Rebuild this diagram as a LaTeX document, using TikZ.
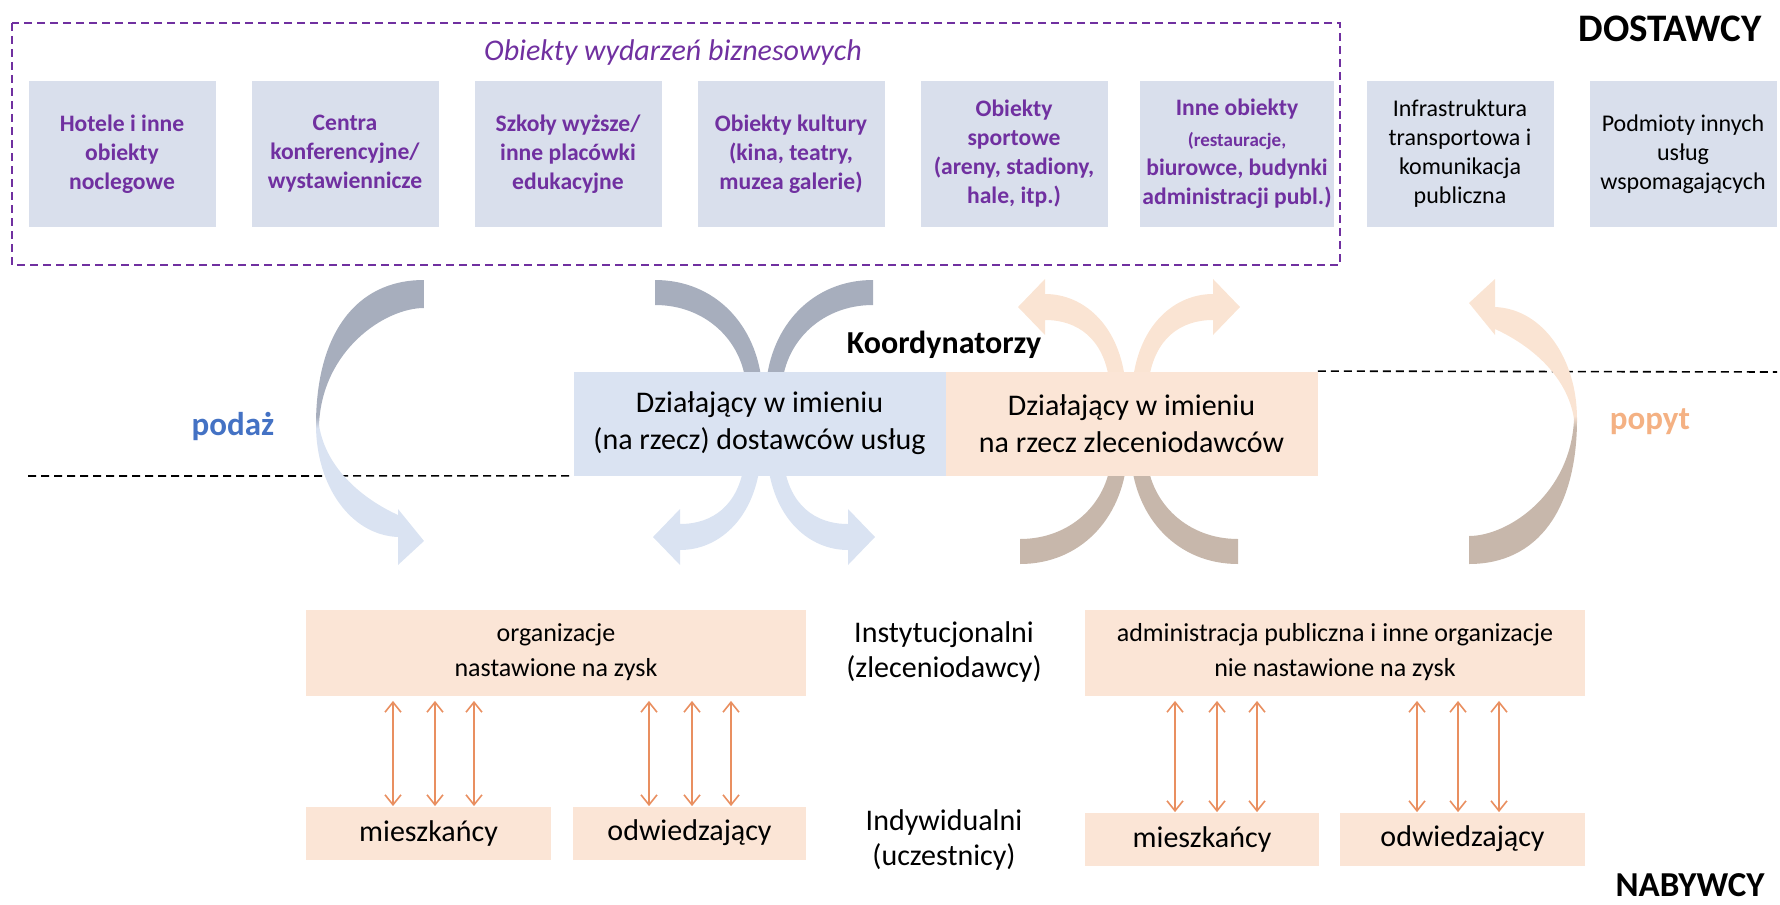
\documentclass[tikz,border=0pt]{standalone}
\usepackage{fontspec}
\setmainfont{Carlito}
\usetikzlibrary{arrows.meta}

\definecolor{venuefill}{RGB}{217,223,236}
\definecolor{coordfill}{RGB}{218,227,242}
\definecolor{peachfill}{RGB}{251,229,214}
\definecolor{venuepurple}{RGB}{112,48,160}
\definecolor{supdark}{RGB}{167,174,189}
\definecolor{suplight}{RGB}{218,227,242}
\definecolor{demdark}{RGB}{199,183,171}
\definecolor{demlight}{RGB}{250,228,211}
\definecolor{linkorange}{RGB}{233,143,96}
\definecolor{supplyblue}{RGB}{68,114,196}
\definecolor{demandorange}{RGB}{244,177,131}

\pgfdeclareverticalshading{supplyshade}{100bp}{color(0bp)=(suplight); color(49bp)=(suplight); color(51bp)=(supdark); color(100bp)=(supdark)}
\pgfdeclareverticalshading{demandshade}{100bp}{color(0bp)=(demdark); color(49bp)=(demdark); color(51bp)=(demlight); color(100bp)=(demlight)}

\pgfdeclarelayer{back}
\pgfsetlayers{back,main}

\begin{document}
\begin{tikzpicture}[x=0.5pt,y=-0.5pt]
\useasboundingbox (0,0) rectangle (1780,904);
\tikzset{venue/.style = {shape=rectangle, fill=venuefill, minimum width=93.5pt, minimum height=73pt, inner sep=1pt, align=center, text=venuepurple, font=\fontsize{11.8}{14.5}\selectfont\bfseries}}
\tikzset{service/.style = {venue, text=black, font=\fontsize{12}{14.5}\selectfont}}
% suppliers
\draw[venuepurple, line width=1pt, dash pattern=on 4pt off 2.5pt] (12,23) rectangle (1340,265);
\node[text=venuepurple, font=\fontsize{15}{18}\selectfont\itshape] (venuetitle) at (673,53) {Obiekty wydarzeń biznesowych};
\node[venue] (hotels) at (122,154) {Hotele i inne\\obiekty\\noclegowe};
\node[venue] (congress) at (345,154) {Centra\\konferencyjne/\\wystawiennicze};
\node[venue] (schools) at (568,154) {Szkoły wyższe/\\inne placówki\\edukacyjne};
\node[venue] (culture) at (791,154) {Obiekty kultury\\(kina, teatry,\\muzea galerie)};
\node[venue] (sport) at (1014,154) {Obiekty\\sportowe\\(areny, stadiony,\\hale, itp.)};
\node[venue] (other) at (1237,154) {Inne obiekty\\[1pt]\fontsize{9.5}{11.8}\selectfont(restauracje,\\biurowce, budynki\\administracji publ.)};
\node[service] (transport) at (1460,154) {Infrastruktura\\transportowa i\\komunikacja\\publiczna};
\node[service] (support) at (1683,154) {Podmioty innych\\usług\\wspomagających};
\node[font=\fontsize{19.5}{23}\selectfont\bfseries] (suppliers) at (1670,29) {DOSTAWCY};

% flows
\shade[shading=supplyshade] (424,280) .. controls (355,280) and (316,335) .. (316,425) .. controls (316,485) and (350,535) .. (398,537) -- (398,565) -- (424,541) -- (398,509) -- (398,515) .. controls (365,500) and (326,470) .. (319,425) .. controls (322,350) and (385,308) .. (424,308) -- cycle;
\shade[shading=supplyshade] (655,280) .. controls (715,280) and (757,325) .. (762,385) -- (784,465) .. controls (790,505) and (815,524) .. (848,524) -- (848,509) -- (875,537) -- (848,565) -- (848,550) .. controls (810,550) and (775,520) .. (768,465) -- (746,385) .. controls (742,340) and (705,305) .. (655,305) -- cycle;
\shade[shading=supplyshade] (873,280) .. controls (813,280) and (771,325) .. (766,385) -- (744,465) .. controls (738,505) and (713,524) .. (680,524) -- (680,509) -- (653,537) -- (680,565) -- (680,550) .. controls (718,550) and (753,520) .. (760,465) -- (782,385) .. controls (786,340) and (823,305) .. (873,305) -- cycle;
\shade[shading=demandshade] (1238,564) .. controls (1178,564) and (1136,519) .. (1131,459) -- (1109,379) .. controls (1103,339) and (1078,320) .. (1045,320) -- (1045,335) -- (1018,307) -- (1045,279) -- (1045,294) .. controls (1083,294) and (1118,324) .. (1125,379) -- (1147,459) .. controls (1151,504) and (1188,539) .. (1238,539) -- cycle;
\shade[shading=demandshade] (1020,564) .. controls (1080,564) and (1122,519) .. (1127,459) -- (1149,379) .. controls (1155,339) and (1180,320) .. (1213,320) -- (1213,335) -- (1240,307) -- (1213,279) -- (1213,294) .. controls (1175,294) and (1140,324) .. (1133,379) -- (1111,459) .. controls (1107,504) and (1070,539) .. (1020,539) -- cycle;
\shade[shading=demandshade] (1469,564) .. controls (1538,564) and (1577,509) .. (1577,419) .. controls (1577,359) and (1543,309) .. (1495,307) -- (1495,279) -- (1469,303) -- (1495,335) -- (1495,329) .. controls (1528,344) and (1567,374) .. (1574,419) .. controls (1571,494) and (1508,536) .. (1469,536) -- cycle;

% coordinators
\tikzset{coord/.style = {shape=rectangle, minimum width=186pt, minimum height=52pt, inner sep=1pt, align=center, font=\fontsize{15}{18.5}\selectfont}}
\node[font=\fontsize{16}{19}\selectfont\bfseries] (coordinators) at (944,345) {Koordynatorzy};
\node[coord, fill=coordfill] (forsuppliers) at (759.5,423.5) {Działający w imieniu\\(na rzecz) dostawców usług};
\node[coord, fill=peachfill] (forclients) at (1131.5,423.5) {Działający w imieniu\\na rzecz zleceniodawców};
\node[text=supplyblue, font=\fontsize{16.5}{20}\selectfont\bfseries] (supply) at (233,426) {podaż};
\node[text=demandorange, font=\fontsize{16.5}{20}\selectfont\bfseries] (demand) at (1650,422) {popyt};
\coordinate (leftedge) at (28,476);
\coordinate (rightedge) at (1777,372);
\begin{pgfonlayer}{back}
\draw[line width=0.8pt, dash pattern=on 4pt off 2.5pt] (leftedge) -- (forsuppliers.south west);
\draw[line width=0.8pt, dash pattern=on 4pt off 2.5pt] (forclients.north east) -- (rightedge);
\end{pgfonlayer}

% buyers
\tikzset{buyer/.style = {shape=rectangle, fill=peachfill, minimum width=250pt, minimum height=43pt, inner sep=1pt, align=center, font=\fontsize{13}{17.5}\selectfont}}
\tikzset{person/.style = {shape=rectangle, fill=peachfill, minimum height=26.5pt, inner sep=1pt, font=\fontsize{15}{18}\selectfont}}
\tikzset{tier/.style = {align=center, font=\fontsize{15}{17.5}\selectfont}}
\node[buyer] (profit) at (556,652.5) {organizacje\\nastawione na zysk};
\node[buyer] (nonprofit) at (1335,652.5) {administracja publiczna i inne organizacje\\nie nastawione na zysk};
\node[tier] (institutional) at (944,652) {Instytucjonalni\\(zleceniodawcy)};
\node[tier] (individual) at (944,840) {Indywidualni\\(uczestnicy)};
\node[person, minimum width=122.5pt] (residentsL) at (428.5,833) {mieszkańcy};
\node[person, minimum width=116.5pt] (visitorsL) at (689.5,833) {odwiedzający};
\node[person, minimum width=117pt] (residentsR) at (1202,839) {mieszkańcy};
\node[person, minimum width=122.5pt] (visitorsR) at (1462.5,839) {odwiedzający};
\node[font=\fontsize{17.5}{21}\selectfont\bfseries] (buyers) at (1690,885) {NABYWCY};

%links
\tikzset{link/.style = {<->, > = {Straight Barb[length=5pt,width=8pt]}, linkorange, line width=0.8pt, shorten >=2.5pt}}
\draw[link] ([xshift=-17.75pt]residentsL.north) -- ([xshift=-17.75pt]residentsL.north |- profit.south);
\draw[link] ([xshift=3.25pt]residentsL.north) -- ([xshift=3.25pt]residentsL.north |- profit.south);
\draw[link] ([xshift=22.75pt]residentsL.north) -- ([xshift=22.75pt]residentsL.north |- profit.south);
\draw[link] ([xshift=-20.25pt]visitorsL.north) -- ([xshift=-20.25pt]visitorsL.north |- profit.south);
\draw[link] ([xshift=1.25pt]visitorsL.north) -- ([xshift=1.25pt]visitorsL.north |- profit.south);
\draw[link] ([xshift=20.75pt]visitorsL.north) -- ([xshift=20.75pt]visitorsL.north |- profit.south);
\draw[link] ([xshift=-13.5pt]residentsR.north) -- ([xshift=-13.5pt]residentsR.north |- nonprofit.south);
\draw[link] ([xshift=7.5pt]residentsR.north) -- ([xshift=7.5pt]residentsR.north |- nonprofit.south);
\draw[link] ([xshift=27.5pt]residentsR.north) -- ([xshift=27.5pt]residentsR.north |- nonprofit.south);
\draw[link] ([xshift=-22.75pt]visitorsR.north) -- ([xshift=-22.75pt]visitorsR.north |- nonprofit.south);
\draw[link] ([xshift=-2.25pt]visitorsR.north) -- ([xshift=-2.25pt]visitorsR.north |- nonprofit.south);
\draw[link] ([xshift=18.25pt]visitorsR.north) -- ([xshift=18.25pt]visitorsR.north |- nonprofit.south);

\end{tikzpicture}
\end{document}
